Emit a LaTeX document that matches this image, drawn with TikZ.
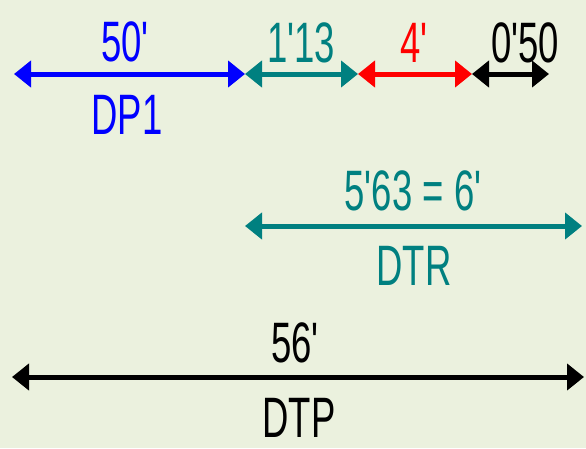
\documentclass[tikz,border=0pt]{standalone}
\usepackage{fontspec}
\setmainfont[FakeStretch=0.64,Ligatures=TeXOff]{Liberation Sans}
\usetikzlibrary{arrows.meta}
\definecolor{bgcol}{RGB}{235,241,222}
\definecolor{tealc}{RGB}{0,128,128}
\begin{document}
\begin{tikzpicture}[x=1pt,y=-1pt,
  dim/.style={line width=5pt,{Triangle[length=17pt,width=26pt]}-{Triangle[length=17pt,width=26pt]}},
  lbl/.style={inner sep=0pt,anchor=base,font=\fontsize{57}{60}\selectfont}]
\fill[bgcol] (0,0) rectangle (586,448);
\useasboundingbox (0,0) rectangle (586,448);
% top row of partial lengths
\coordinate (p0) at (14,74);
\coordinate (p1) at (245,74);
\coordinate (p2) at (358,74);
\coordinate (p3) at (472,74);
\coordinate (p4) at (549,74);
\draw[dim,blue] (p0) -- (p1);
\draw[dim,tealc] (p1) -- (p2);
\draw[dim,red] (p2) -- (p3);
\draw[dim,black] (p3) -- (p4);
\node[lbl,blue] (t50) at (125,61) {50'};
\node[lbl,blue] (tdp1) at (127,134) {DP1};
\node[lbl,tealc] (t113) at (301,62) {1'13};
\node[lbl,red] (t4) at (414,62) {4'};
\node[lbl,black] (t050) at (525,62) {0'50};
% DTR row
\coordinate (r0) at (245,226);
\coordinate (r1) at (582,226);
\draw[dim,tealc] (r0) -- (r1);
\node[lbl,tealc] (t563) at (413,210) {5'63 = 6'};
\node[lbl,tealc] (tdtr) at (414,285) {DTR};
% DTP row
\coordinate (s0) at (12,377);
\coordinate (s1) at (584,377);
\draw[dim,black] (s0) -- (s1);
\node[lbl,black] (t56) at (295,362) {56'};
\node[lbl,black] (tdtp) at (299,437) {DTP};
\end{tikzpicture}
\end{document}
